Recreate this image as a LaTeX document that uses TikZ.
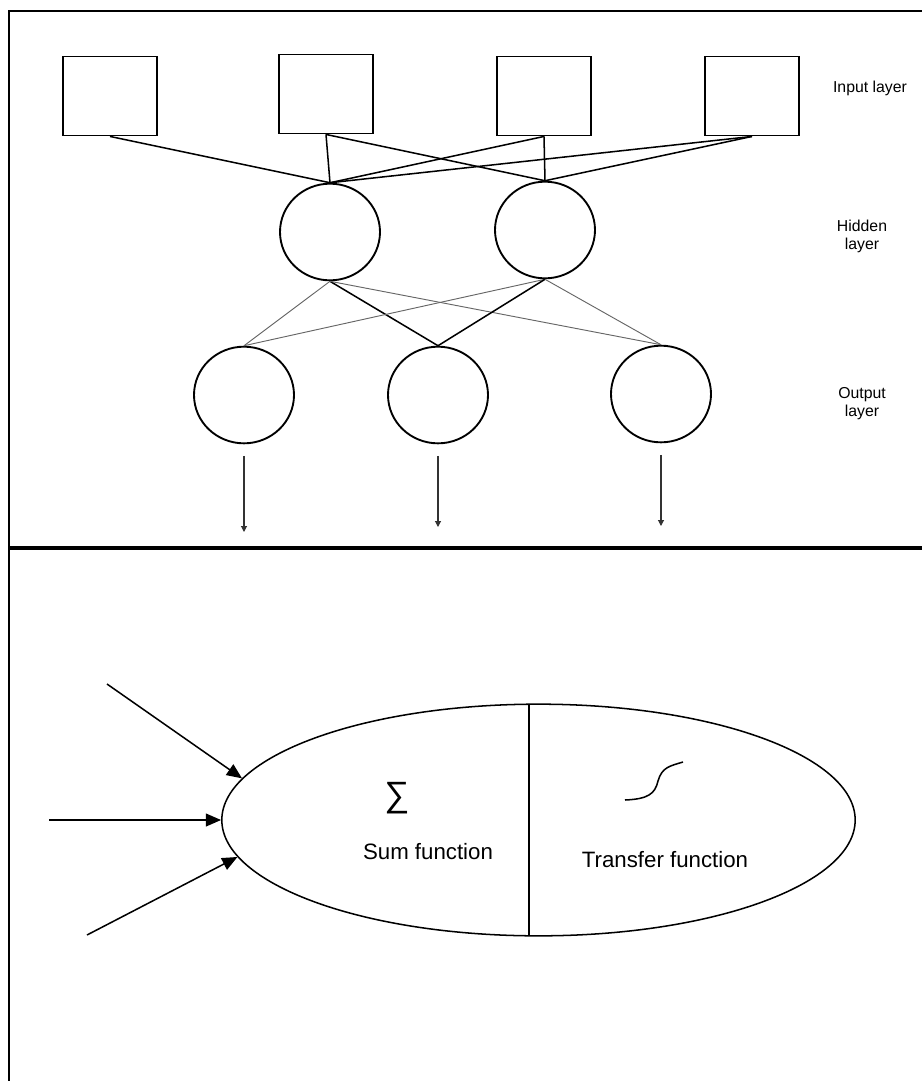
\documentclass[tikz,border=0pt]{standalone}
\usepackage{fontspec}
\setmainfont{Liberation Sans}
\usetikzlibrary{shapes.geometric,arrows.meta}

\begin{document}
\begin{tikzpicture}[x=0.03cm,y=-0.03cm,
  inbox/.style={draw,line width=1.6pt,minimum width=2.82cm,minimum height=2.37cm,inner sep=0pt},
  neuron/.style={draw,ellipse,line width=1.6pt,minimum width=3cm,minimum height=2.9cm,inner sep=0pt},
  layertext/.style={align=center,font=\fontsize{13.5}{15.5}\selectfont},
  bigtext/.style={font=\fontsize{19}{22}\selectfont},
  link/.style={line width=1.3pt},
  weak/.style={line width=0.8pt,black!60},
  outarrow/.style={line width=0.9pt,black!80,-{Triangle[length=5pt,width=5pt]}},
  inarrow/.style={line width=1.3pt,-{Triangle[length=13pt,width=11pt]}}]
\useasboundingbox (0,0) rectangle (922,1081);

% frame
\draw[line width=2pt] (922,11) -- (9,11) -- (9,1081);
\draw[line width=3.5pt] (9,548) -- (922,548);

% layers
\node[inbox] (i1) at (110,96) {};
\node[inbox] (i2) at (326,94) {};
\node[inbox] (i3) at (544,96) {};
\node[inbox] (i4) at (752,96) {};

\node[neuron] (h1) at (330,232) {};
\node[neuron] (h2) at (545,230) {};

\node[neuron] (o1) at (244,395) {};
\node[neuron] (o2) at (438,395) {};
\node[neuron] (o3) at (661,394) {};

\node[layertext] (l1) at (870,88) {Input layer};
\node[layertext] (l2) at (862,236) {Hidden\\layer};
\node[layertext] (l3) at (862,404) {Output\\layer};

\draw[link] (i1.south) -- (h1.north);
\foreach \i in {2,3,4}
  \foreach \h in {1,2}
    \draw[link] (i\i.south) -- (h\h.north);

\draw[weak] (h1.south) -- (o1.north);
\draw[link] (h1.south) -- (o2.north);
\draw[weak] (h1.south) -- (o3.north);
\draw[weak] (h2.south) -- (o1.north);
\draw[link] (h2.south) -- (o2.north);
\draw[weak] (h2.south) -- (o3.north);

\coordinate (y1) at (244,532);
\coordinate (y2) at (438,527);
\coordinate (y3) at (661,526);
\foreach \o in {1,2,3}
  \draw[outarrow,shorten <=10] (o\o.south) -- (y\o);

% single neuron
\node[draw,ellipse,line width=1.3pt,minimum width=19cm,minimum height=6.95cm,inner sep=0pt] (cell) at (538.5,820) {};
\draw[line width=1.3pt] (529,704) -- (529,936);

\coordinate (x1) at (107,684);
\coordinate (x2) at (49,820);
\coordinate (x3) at (87,935);
\draw[inarrow] (x1) -- (cell.172.5);
\draw[inarrow] (x2) -- (cell.180);
\draw[inarrow] (x3) -- (cell.187.5);

\node[font=\fontsize{30}{30}\selectfont] (sigma) at (397,798) {∑};
\node[bigtext] (sum) at (428,852) {Sum function};
\node[bigtext] (tf) at (665,860) {Transfer function};
\draw[line width=1.3pt] (625,800) .. controls (648,799) and (655,794) .. (658,781)
  .. controls (662,767) and (670,766) .. (683,762);
\end{tikzpicture}
\end{document}
